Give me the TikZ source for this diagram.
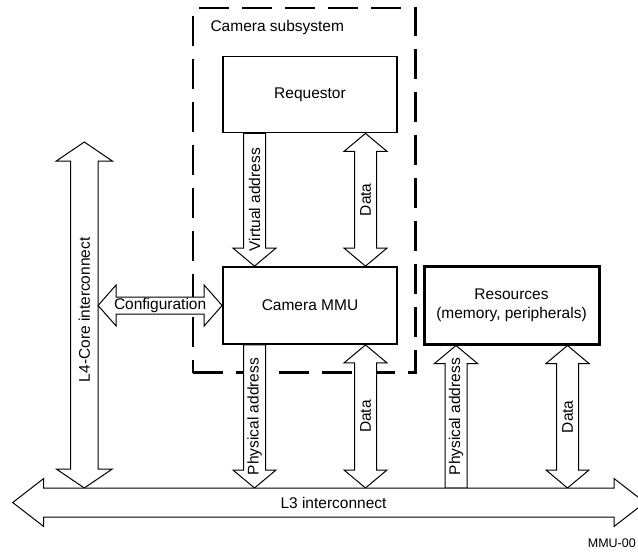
\documentclass[tikz,border=0pt]{standalone}
\usepackage{fontspec}
\setmainfont{Liberation Sans}
\usetikzlibrary{calc,positioning}

% vertical block arrows: double, down, up (#1 top end, #2 bottom end, #3 label name, #4 text)
\newcommand{\dblvarrow}[4]{%
  \draw[blockarrow] (#1) -- ++(21.5,18) -- ++(-10.5,0) -- ($(#2)+(11,-18)$) -- ++(10.5,0) -- (#2)
    -- ++(-21.5,-18) -- ++(10.5,0) -- ($(#1)+(-11,18)$) -- ++(-10.5,0) -- cycle;
  \path (#1) -- (#2) node[midway, rotate=90] (#3) {#4};}
\newcommand{\downvarrow}[4]{%
  \draw[blockarrow] ($(#1)+(-11,0)$) -- ($(#1)+(11,0)$) -- ($(#2)+(11,-18)$) -- ++(10.5,0) -- (#2)
    -- ++(-21.5,-18) -- ++(10.5,0) -- cycle;
  \path (#1) -- (#2) node[midway, rotate=90] (#3) {#4};}
\newcommand{\upvarrow}[4]{%
  \draw[blockarrow] (#1) -- ++(21.5,18) -- ++(-10.5,0) -- ($(#2)+(11,0)$) -- ($(#2)+(-11,0)$)
    -- ($(#1)+(-11,18)$) -- ++(-10.5,0) -- cycle;
  \path (#1) -- (#2) node[midway, rotate=90] (#3) {#4};}

\begin{document}
\begin{tikzpicture}[x=1pt, y=-1pt,
    every node/.style={font=\fontsize{15.5}{19}\selectfont},
    unit/.style={draw, line width=1.8pt, minimum width=174pt, minimum height=76pt, inner sep=0pt},
    subsys/.style={draw, line width=2.6pt, dash pattern=on 30pt off 13pt, minimum width=222.5pt, minimum height=364.5pt},
    blockarrow/.style={draw, fill=white, line width=1pt, line join=miter}]
    \useasboundingbox (0,0) rectangle (638,552);

    % camera subsystem
    \node[subsys] (cam) at (304.25,190.25) {};
    \node[anchor=base west] (camlabel) at (207,31) {Camera subsystem};

    % blocks
    \node[unit] (req) at (310,94.5) {Requestor};
    \node[unit, minimum height=77pt] (mmu) at (310,305.5) {Camera MMU};
    \node[unit, line width=3pt, minimum width=175pt, minimum height=78pt, align=center] (res) at (511.5,305) {Resources\\(memory, peripherals)};

    % lanes
    \coordinate (vaddr) at (254.5,0);
    \coordinate (cdata) at (365.5,0);
    \coordinate (rpaddr) at (456,0);
    \coordinate (rdata) at (567.5,0);
    \coordinate (l3top) at (0,488);
    \coordinate (va1) at (req.south -| vaddr);
    \coordinate (va2) at (mmu.north -| vaddr);
    \coordinate (cd1) at (req.south -| cdata);
    \coordinate (cd2) at (mmu.north -| cdata);
    \coordinate (pa1) at (mmu.south -| vaddr);
    \coordinate (pa2) at (l3top -| vaddr);
    \coordinate (md1) at (mmu.south -| cdata);
    \coordinate (md2) at (l3top -| cdata);
    \coordinate (rp1) at (res.south -| rpaddr);
    \coordinate (rp2) at (l3top -| rpaddr);
    \coordinate (rd1) at (res.south -| rdata);
    \coordinate (rd2) at (l3top -| rdata);

    % requestor to mmu
    \downvarrow{va1}{va2}{valabel}{Virtual address}
    \dblvarrow{cd1}{cd2}{cdlabel}{Data}
    % mmu to l3
    \downvarrow{pa1}{pa2}{palabel}{Physical address}
    \dblvarrow{md1}{md2}{mdlabel}{Data}
    % l3 to resources
    \upvarrow{rp1}{rp2}{rplabel}{Physical address}
    \dblvarrow{rd1}{rd2}{rdlabel}{Data}

    % l4 interconnect
    \coordinate (l4top) at (84.3,142);
    \coordinate (l4bot) at (l4top |- l3top);
    \draw[blockarrow] (l4top) -- ++(28,19) -- ++(-14.2,0) -- ($(l4bot)+(13.8,-19)$) -- ++(14.2,0) -- (l4bot)
        -- ++(-28,-19) -- ++(14.2,0) -- ($(l4top)+(-13.8,19)$) -- ++(-14.2,0) -- cycle;
    \node[rotate=90] (l4label) at ($(l4top)!0.485!(l4bot)$) {L4-Core interconnect};

    % configuration
    \coordinate (cfg1) at ($(mmu.west -| l4top)+(13.8,0)$);
    \coordinate (cfg2) at (mmu.west);
    \draw[blockarrow] (cfg1) -- ++(18,-20.5) -- ++(0,12) -- ($(cfg2)+(-18,-8.5)$) -- ++(0,-12) -- (cfg2)
        -- ++(-18,20.5) -- ++(0,-12) -- ($(cfg1)+(18,8.5)$) -- ++(0,12) -- cycle;
    \path (cfg1) -- (cfg2) node[midway] (cfglabel) {Configuration};

    % l3 interconnect
    \coordinate (l3west) at (12.7,502.5);
    \coordinate (l3east) at (645,502.5);
    \draw[blockarrow] (l3west) -- ++(31,-24) -- ++(0,9.5) -- ($(l3east)+(-31,-14.5)$) -- ++(0,-9.5) -- (l3east)
        -- ++(-31,24) -- ++(0,-9.5) -- ($(l3west)+(31,14.5)$) -- ++(0,9.5) -- cycle;
    \node (l3label) at (333.5,502.5) {L3 interconnect};

    \node[font=\fontsize{12.5}{15}\selectfont, anchor=base east, inner sep=1pt] (figid) at (637,547) {MMU-00};
\end{tikzpicture}
\end{document}
